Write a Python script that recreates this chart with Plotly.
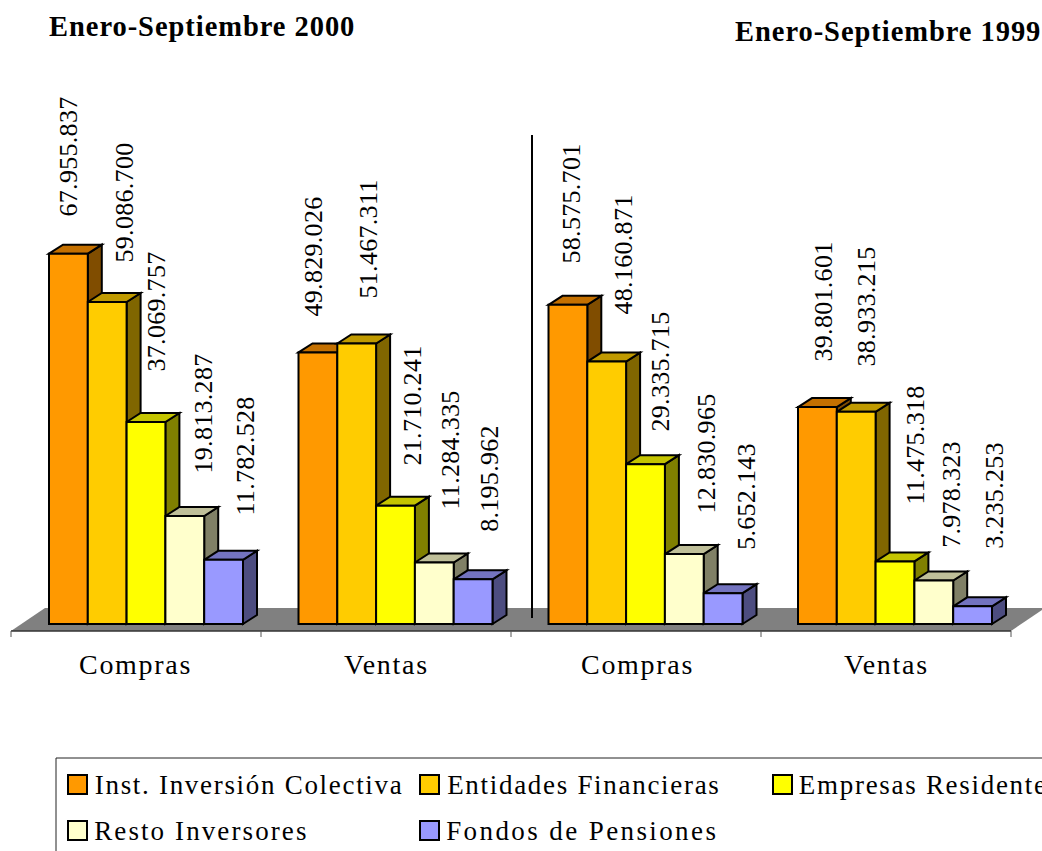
# Volumen de compras y ventas por tipo de inversor, barras con efecto 3D
import plotly.graph_objects as go

W, H = 1042, 851

# Data
groups = ["Compras", "Ventas", "Compras", "Ventas"]
inst_colectiva = [67955837, 49829026, 58575701, 39801601]
ent_financieras = [59086700, 51467311, 48160871, 38933215]
emp_residentes = [37069757, 21710241, 29335715, 11475318]
resto_inversores = [19813287, 11284335, 12830965, 7978323]
fondos_pensiones = [11782528, 8195962, 5652143, 3235253]

series_names = ["Inst. Inversión Colectiva", "Entidades Financieras", "Empresas Residentes",
                "Resto Inversores", "Fondos de Pensiones"]
series_values = [inst_colectiva, ent_financieras, emp_residentes, resto_inversores, fondos_pensiones]

# front, top and side face colours
front_colors = ["#FF9900", "#FFCC00", "#FFFF00", "#FFFFCC", "#9999FF"]
top_colors = ["#C47000", "#C09A00", "#C4C400", "#BFBF99", "#7373BF"]
side_colors = ["#804D00", "#806600", "#808000", "#808066", "#4D4D80"]

# Scale: one category = 250 px, 1 px = 183500 units
X0_PX, CAT_PX = 11, 250
BASE_PX, UNITS_PER_PX = 624, 183500
BAR_PX = 38.8
DEPTH_X, DEPTH_Y = 14, 9
group_start = [38, 37.5, 37.5, 37]   # px from the tick to the first bar


def x_data(px):
    return (px - X0_PX) / CAT_PX


def y_data(py):
    return (BASE_PX - py) * UNITS_PER_PX


def xp(px):
    return px / W


def yp(py):
    return 1 - py / H


shapes = []


def path_shape(points, fill, width=2):
    d = "M " + " L ".join(f"{x},{y}" for x, y in points) + " Z"
    shapes.append(dict(type="path", path=d, xref="x", yref="y", fillcolor=fill, layer="below",
                       line=dict(color="black", width=width)))


# Floor
path_shape([(x_data(11), y_data(631)), (x_data(45), y_data(608)),
            (x_data(1045), y_data(608)), (x_data(1011), y_data(631))], "#808080", 0)
shapes.append(dict(type="line", xref="x", yref="y", layer="below", x0=0, x1=4,
                   y0=y_data(631), y1=y_data(631), line=dict(color="#333333", width=1.5)))
for i in range(5):
    shapes.append(dict(type="line", xref="x", yref="y", layer="below", x0=i, x1=i,
                       y0=y_data(631), y1=y_data(637), line=dict(color="#555555", width=1)))

# Bar fronts go through go.Bar, tops and sides are worked out from the same values
fig = go.Figure()
dx = DEPTH_X / CAT_PX
dy = DEPTH_Y * UNITS_PER_PX
bar_w = BAR_PX / CAT_PX
for g in range(len(groups)):
    for s in range(len(series_names)):
        left = g + (group_start[g] + s * BAR_PX) / CAT_PX
        right = left + bar_w
        v = series_values[s][g]
        path_shape([(right, 0), (right + dx, dy), (right + dx, v + dy), (right, v)], side_colors[s])
        path_shape([(left, v), (left + dx, v + dy), (right + dx, v + dy), (right, v)], top_colors[s])

for s, name in enumerate(series_names):
    offsets = [group_start[g] / CAT_PX + s * bar_w for g in range(len(groups))]
    fig.add_trace(go.Bar(x=list(range(len(groups))), y=series_values[s], name=name, width=bar_w,
                         offset=offsets, marker=dict(color=front_colors[s], line=dict(color="black", width=2)),
                         showlegend=False))

# Vertical divider between the two periods
shapes.append(dict(type="line", xref="x", yref="y", layer="above", x0=x_data(532), x1=x_data(532),
                   y0=y_data(135), y1=y_data(618), line=dict(color="black", width=2)))

annotations = []


def text_px(x, y, text, size, angle=0, bold=False):
    # centred on (x, y): letter spacing widens the text around its middle
    annotations.append(dict(x=xp(x), y=yp(y), xref="paper", yref="paper", text=f"<b>{text}</b>" if bold else text,
                            showarrow=False, xanchor="center", yanchor="middle", textangle=angle,
                            borderpad=0, borderwidth=0,
                            font=dict(family="Liberation Serif", size=size, color="black")))


# Value labels sit where they were dragged by hand in the original
label_x = [[68, 313, 571, 824], [124, 368, 624, 866], [157, 412, 660, 915], [203, 450, 706, 951], [245, 489, 746, 994]]
label_bottom = [[217, 317, 264, 362], [263, 299, 315, 367], [372, 466, 432, 505], [474, 510, 514, 548], [516, 532, 550, 549]]
for s in range(5):
    for g in range(4):
        txt = f"{series_values[s][g]:,}".replace(",", ".")
        label_len = 120 if len(txt) == 10 else 107
        text_px(label_x[s][g], label_bottom[s][g] - label_len / 2, txt, 26, -90)

# Category labels
group_label_x = [135.5, 386.5, 637, 886.5]
for g, name in enumerate(groups):
    text_px(group_label_x[g], 664, name, 28)

# Period titles
text_px(201.5, 26, "Enero-Septiembre 2000", 28.5, bold=True)
text_px(887.5, 32, "Enero-Septiembre 1999", 28.5, bold=True)

# Legend box, cut off by the right and bottom edges as in the original
shapes.append(dict(type="line", xref="paper", yref="paper", x0=xp(56), x1=1, y0=yp(758), y1=yp(758),
                   line=dict(color="#222222", width=1)))
shapes.append(dict(type="line", xref="paper", yref="paper", x0=xp(56), x1=xp(56), y0=yp(758), y1=0,
                   line=dict(color="#222222", width=1)))
legend_pos = [(68, 775), (420, 775), (773, 775), (68, 821), (420, 821)]
legend_text_x = [249, 584, 929, 201, 582.5]
for s, (lx, ly) in enumerate(legend_pos):
    shapes.append(dict(type="rect", xref="paper", yref="paper", x0=xp(lx), x1=xp(lx + 19), y0=yp(ly), y1=yp(ly + 19),
                       fillcolor=front_colors[s], line=dict(color="black", width=2)))
    text_px(legend_text_x[s], ly + 10, series_names[s], 27)

fig.update_layout(
    width=W, height=H,
    margin=dict(l=0, r=0, t=0, b=0),
    paper_bgcolor="white", plot_bgcolor="white",
    barmode="overlay",
    xaxis=dict(range=[x_data(0), x_data(W)], visible=False),
    yaxis=dict(range=[y_data(H), y_data(0)], visible=False),
    shapes=shapes, annotations=annotations,
)

# The original text is loosely tracked, plotly has no letter spacing setting
post = """
document.body.style.margin = '0';
var spacing = {'26px': '0.3px', '27px': '1.7px', '28px': '1.7px', '28.5px': '0.95px'};
var wider = {'Resto Inversores': '2.1px', 'Fondos de Pensiones': '2.4px'};
document.querySelectorAll('.annotation-text').forEach(function (t) {
    t.style.letterSpacing = wider[t.textContent] || spacing[t.style.fontSize] || '1px';
});
"""
fig.write_html("out.html", config=dict(displayModeBar=False), post_script=post)
